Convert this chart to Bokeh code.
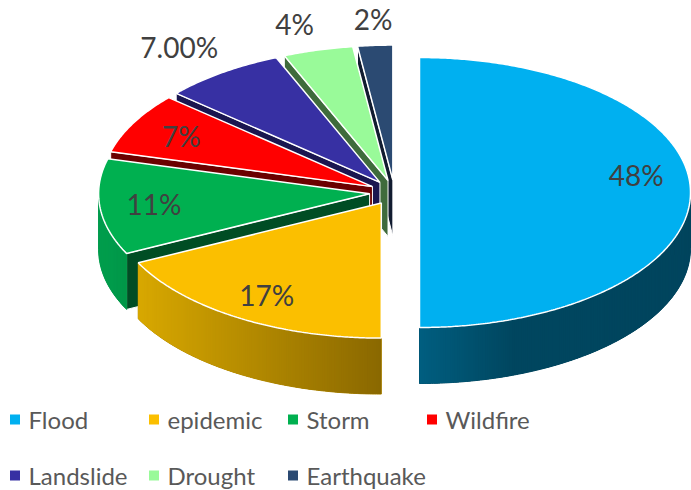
import numpy as np
from bokeh.plotting import figure
from bokeh.models import Range1d, ColumnDataSource
from bokeh.core.properties import value
from bokeh.embed import file_html
from bokeh.resources import INLINE

# ---------------- data ----------------
categories = ["Flood", "epidemic", "Storm", "Wildfire", "Landslide", "Drought", "Earthquake"]
shares = [48, 17, 11, 7, 7, 4, 2]
labels = ["48%", "17%", "11%", "7%", "7.00%", "4%", "2%"]

# ---------------- styles ----------------
top_colors = ["#00B0F0", "#FBBF00", "#00B050", "#FF0000", "#3730A3", "#99FA99", "#2B4A72"]
face_colors = ["#004660", "#8A6800", "#004D24", "#6B0000", "#1A1650", "#3F6B3C", "#111C30"]
wall_stops = [
    [(0.0, "#005E80"), (0.35, "#00465F"), (1.0, "#00455E")],
    [(0.0, "#D8A800"), (1.0, "#8A6800")],
    [(0.0, "#009E4E"), (1.0, "#009748")],
    [(0.0, "#990000"), (1.0, "#990000")],
    [(0.0, "#22206A"), (1.0, "#22206A")],
    [(0.0, "#5FA05F"), (1.0, "#5FA05F")],
    [(0.0, "#1A2D48"), (1.0, "#1A2D48")],
]
label_outside = [False, False, False, False, True, True, True]
label_dy = [-18, 0, 0, 0, 0, 0, 0]
LABEL_COLOR = "#404040"
LEGEND_COLOR = "#595959"
FONT = "Lato"

W, H = 691, 490
CX, CY = 394.0, 192.0
RX, RY = 271.0, 135.0
DEPTH = 56.0
EXPLODE = 25.0
INNER_FRAC = 0.8


def hex2rgb(h):
    h = h.lstrip("#")
    return np.array([int(h[i:i + 2], 16) for i in (0, 2, 4)], dtype=float)


def grad(stops, t):
    t = min(max(t, 0.0), 1.0)
    for (t0, c0), (t1, c1) in zip(stops[:-1], stops[1:]):
        if t <= t1:
            f = 0.0 if t1 == t0 else (t - t0) / (t1 - t0)
            c = hex2rgb(c0) * (1 - f) + hex2rgb(c1) * f
            return "#%02x%02x%02x" % tuple(int(round(v)) for v in c)
    return stops[-1][1]


total = float(sum(shares))
cum = np.concatenate([[0.0], np.cumsum(shares)])
th = cum / total * 2 * np.pi
mids = (th[:-1] + th[1:]) / 2
centers = [(CX + EXPLODE * np.sin(m), CY - EXPLODE * (RY / RX) * np.cos(m)) for m in mids]
order = np.argsort(-np.cos(mids), kind="stable")

P = dict(xs=[], ys=[], fill=[], line=[], lw=[], fa=[])


def add(xs, ys, fill, line, lw, fa=1.0):
    P["xs"].append(list(map(float, xs)))
    P["ys"].append(list(map(float, ys)))
    P["fill"].append(fill)
    P["line"].append(line)
    P["lw"].append(lw)
    P["fa"].append(fa)


for i in order:
    cx, cy = centers[i]
    a0, a1 = th[i], th[i + 1]
    # radial start face (visible when it faces the viewer)
    if np.sin(a0) < -1e-6:
        ox, oy = cx + RX * np.sin(a0), cy - RY * np.cos(a0)
        add([cx, ox, ox, cx], [cy, oy, oy + DEPTH, cy + DEPTH], face_colors[i], "white", 1.0)
    # outer wall (front half only), drawn as overlapping strips for a gradient
    lo, hi = max(a0, np.pi / 2), min(a1, 3 * np.pi / 2)
    if hi > lo:
        n = max(6, int(np.degrees(hi - lo) * 2))
        angs = np.linspace(lo, hi, n + 1)
        xs = cx + RX * np.sin(angs)
        ys = cy - RY * np.cos(angs)
        xmin, xmax = xs.min(), xs.max()
        base = grad(wall_stops[i], 0.5)
        add(list(xs) + list(xs[::-1]), list(ys) + list(ys[::-1] + DEPTH), base, base, 1.0)
        for k in range(n):
            k2 = min(k + 2, n)
            t = ((xs[k] + xs[k + 1]) / 2 - xmin) / max(xmax - xmin, 1e-9)
            col = grad(wall_stops[i], t)
            sx = list(xs[k:k2 + 1]) + list(xs[k:k2 + 1][::-1])
            sy = list(ys[k:k2 + 1]) + list(ys[k:k2 + 1][::-1] + DEPTH)
            add(sx, sy, col, None, 0)
    # top face
    n = max(8, int(np.degrees(a1 - a0) * 2))
    angs = np.linspace(a0, a1, n + 1)
    add([cx] + list(cx + RX * np.sin(angs)), [cy] + list(cy - RY * np.cos(angs)),
        top_colors[i], "white", 1.5)

p = figure(width=W, height=H, x_range=Range1d(0, W), y_range=Range1d(H, 0),
           output_backend="svg", toolbar_location=None, min_border=0)
p.axis.visible = False
p.grid.visible = False
p.outline_line_color = None
p.background_fill_color = "white"
p.border_fill_color = "white"

src = ColumnDataSource(P)
p.patches("xs", "ys", source=src, fill_color="fill", line_color="line",
          line_width="lw", fill_alpha="fa")

# data labels
lx, ly, la, lb, lt = [], [], [], [], []
for i in range(len(categories)):
    cx, cy = centers[i]
    m = mids[i]
    if label_outside[i]:
        ox, oy = cx + RX * np.sin(m), cy - RY * np.cos(m)
        if np.sin(m) < -0.2:
            lx.append(ox - 4); la.append("right")
        else:
            lx.append(ox - 2); la.append("center")
        ly.append(oy - 9 + label_dy[i]); lb.append("bottom")
    else:
        lx.append(cx + RX * INNER_FRAC * np.sin(m))
        ly.append(cy - RY * INNER_FRAC * np.cos(m) + label_dy[i])
        la.append("center"); lb.append("middle")
    lt.append(labels[i])

lsrc = ColumnDataSource(dict(x=lx, y=ly, text=lt, align=la, base=lb))
p.text("x", "y", text="text", source=lsrc, text_align="align", text_baseline="base",
       text_font=value(FONT), text_font_size="28px", text_color=LABEL_COLOR)

# legend
LEG_X0, LEG_DX = 14.5, 139.0
LEG_Y0, LEG_DY = 419.0, 56.0
NCOL = 4
gx = [LEG_X0 + (k % NCOL) * LEG_DX for k in range(len(categories))]
gy = [LEG_Y0 + (k // NCOL) * LEG_DY for k in range(len(categories))]
gsrc = ColumnDataSource(dict(x=gx, y=gy, tx=[v + 13.5 for v in gx], c=top_colors, t=categories))
p.scatter("x", "y", source=gsrc, marker="square", size=10, fill_color="c", line_color=None)
p.text("tx", "y", text="t", source=gsrc, text_align="left", text_baseline="middle",
       text_font=value(FONT), text_font_size="24px", text_color=LEGEND_COLOR)

open("out.html", "w").write(file_html(p, INLINE))
